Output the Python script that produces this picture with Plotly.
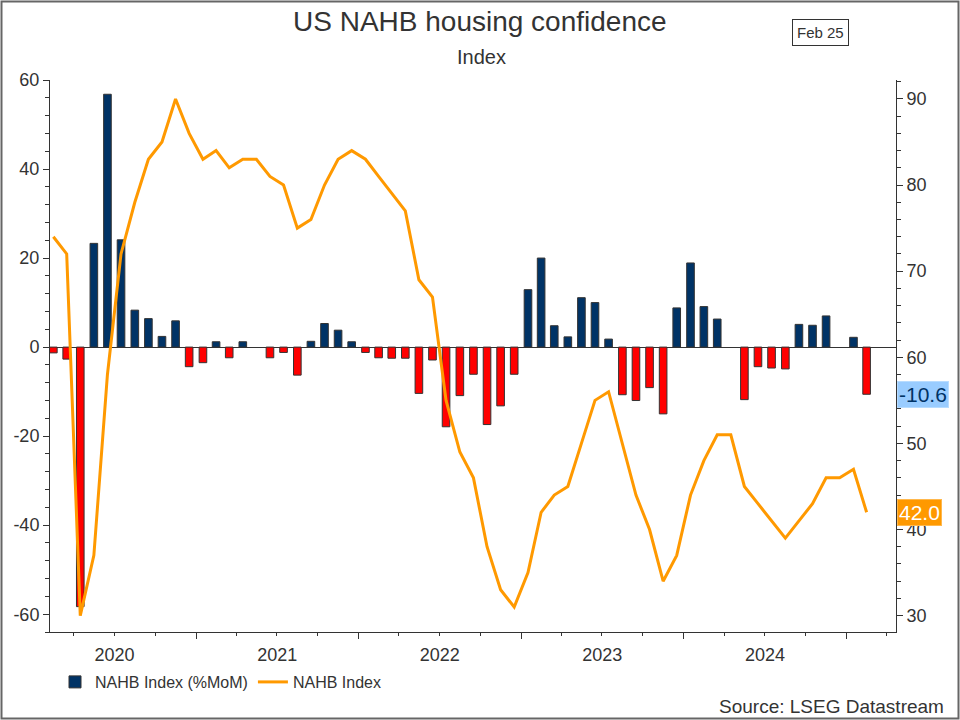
import pandas as pd
import plotly.graph_objects as go

## DATA (monthly, Feb 2020 - Feb 2025)
months = pd.date_range("2020-02-01", "2025-02-01", freq="MS")

# NAHB housing market index
nahb_index = [74, 72, 30, 37, 58, 72, 78, 83, 85, 90, 86,
              83, 84, 82, 83, 83, 81, 80, 75, 76, 80, 83, 84,
              83, 81, 79, 77, 69, 67, 55, 49, 46, 38, 33, 31,
              35, 42, 44, 45, 50, 55, 56, 50, 44, 40, 34, 37,
              44, 48, 51, 51, 45, 43, 41, 39, 41, 43, 46, 46,
              47, 42]

# month on month change (%)
nahb_mom = [-1.3, -2.7, -58.3, 23.3, 56.8, 24.1, 8.3, 6.4, 2.4, 5.9, -4.4,
            -3.5, 1.2, -2.4, 1.2, 0.0, -2.4, -1.2, -6.3, 1.3, 5.3, 3.8, 1.2,
            -1.2, -2.4, -2.5, -2.5, -10.4, -2.9, -17.9, -10.9, -6.1, -17.4, -13.2, -6.1,
            12.9, 20.0, 4.8, 2.3, 11.1, 10.0, 1.8, -10.7, -12.0, -9.1, -15.0, 8.8,
            18.9, 9.1, 6.3, 0.0, -11.8, -4.4, -4.7, -4.9, 5.1, 4.9, 7.0, 0.0,
            2.2, -10.6]

# left axis ticks (plain hyphen minus like the original)
left_ticks = [-60, -40, -20, 0, 20, 40, 60]
left_labels = ["-60", "-40", "-20", "0", "20", "40", "60"]

NAVY = "#003366"
RED = "#ff0000"
ORANGE = "#ff9900"
AXIS = "#333333"
FONT = "Liberation Sans, Arial, sans-serif"

# split rises / falls so the legend swatch is navy (flat months draw nothing)
mom_up = [v if v > 0 else None for v in nahb_mom]
mom_down = [v if v < 0 else None for v in nahb_mom]

fig = go.Figure()

fig.add_trace(go.Bar(
    x=months, y=mom_up,
    xperiod="M1", xperiodalignment="middle",
    marker=dict(color=NAVY, line=dict(color=AXIS, width=1)),
    name="NAHB Index (%MoM)", legendgroup="mom",
    yaxis="y"))
fig.add_trace(go.Bar(
    x=months, y=mom_down,
    xperiod="M1", xperiodalignment="middle",
    marker=dict(color=RED, line=dict(color=AXIS, width=1)),
    name="NAHB Index (%MoM)", legendgroup="mom", showlegend=False,
    yaxis="y"))

fig.add_trace(go.Scatter(
    x=months, y=nahb_index,
    xperiod="M1", xperiodalignment="middle",
    mode="lines",
    line=dict(color=ORANGE, width=3),
    name="NAHB Index",
    yaxis="y2"))

## helpers to place things in figure pixels (plot area 50..896 x 80..632)
L, R, T, B = 50, 64, 80, 88
PW, PH = 960 - L - R, 720 - T - B
def px(x): return (x - L) / PW
def py(y): return (720 - B - y) / PH

annots = [
    dict(text="US NAHB housing confidence", x=px(480), y=py(22), font=dict(size=28, color=AXIS)),
    dict(text="Index", x=px(481), y=py(57), font=dict(size=20, color=AXIS)),
    dict(text="Feb 25", x=px(820), y=py(33), font=dict(size=15, color=AXIS),
         bordercolor=AXIS, borderwidth=1, borderpad=4),
    dict(text="Source: LSEG Datastream", x=px(946), y=py(706), xanchor="right",
         font=dict(size=19, color=AXIS)),
    # last value flags on the right axis
    dict(text=f"{nahb_mom[-1]:.1f}", x=1, xanchor="left", xshift=1, yref="y", y=nahb_mom[-1],
         bgcolor="#99ccff", bordercolor="#b8dcff", borderwidth=1, borderpad=1,
         font=dict(size=21, color=NAVY)),
    dict(text=f"{nahb_index[-1]:.1f}", x=1, xanchor="left", xshift=1, yref="y2", y=nahb_index[-1],
         bgcolor=ORANGE, bordercolor="#ffb84d", borderwidth=1, borderpad=1,
         font=dict(size=21, color="white")),
]
for a in annots:
    a.setdefault("xref", "paper")
    a.setdefault("yref", "paper")
    a.setdefault("xanchor", "center")
    a.setdefault("yanchor", "middle")
    a["showarrow"] = False

fig.update_layout(
    width=960, height=720,
    margin=dict(l=L, r=R, t=T, b=B),
    paper_bgcolor="white", plot_bgcolor="white",
    font=dict(family=FONT, size=18, color=AXIS),
    barmode="relative", bargap=0.42,
    showlegend=True,
    legend=dict(orientation="h", x=px(55), y=py(682), yanchor="middle", xanchor="left",
                font=dict(size=16, color=AXIS), bgcolor="rgba(0,0,0,0)"),
    xaxis=dict(type="date", range=["2020-02-08", "2025-04-22"],
               showline=True, linecolor=AXIS, linewidth=1, showgrid=False,
               dtick="M12", tick0="2020-01-01", tickformat="%Y", ticklabelmode="period",
               ticks="outside", ticklen=6, tickcolor=AXIS,
               minor=dict(dtick="M3", tick0="2020-01-01", ticks="outside", ticklen=3, tickcolor=AXIS),
               zeroline=False),
    yaxis=dict(range=[-64, 60], tickvals=left_ticks, ticktext=left_labels,
               showline=True, linecolor=AXIS, linewidth=1,
               showgrid=False, ticks="outside", ticklen=6, tickcolor=AXIS,
               minor=dict(dtick=4, ticks="outside", ticklen=4, tickcolor=AXIS),
               zeroline=True, zerolinecolor=AXIS, zerolinewidth=1),
    yaxis2=dict(range=[28.1, 92.2], dtick=10, overlaying="y", side="right",
                showline=True, linecolor=AXIS, linewidth=1, showgrid=False,
                ticks="outside", ticklen=6, tickcolor=AXIS,
                minor=dict(dtick=2, ticks="outside", ticklen=4, tickcolor=AXIS),
                zeroline=False),
    annotations=annots,
    shapes=[dict(type="rect", xref="paper", yref="paper",
                 x0=px(1.5), x1=px(958.5), y0=py(718.5), y1=py(1.5),
                 line=dict(color="#666666", width=2))],
)

# page body has an 8px margin by default; drop it so the figure sits at 0,0
fig.write_html("out.html", config={"displayModeBar": False},
               post_script="document.body.style.margin='0';")
